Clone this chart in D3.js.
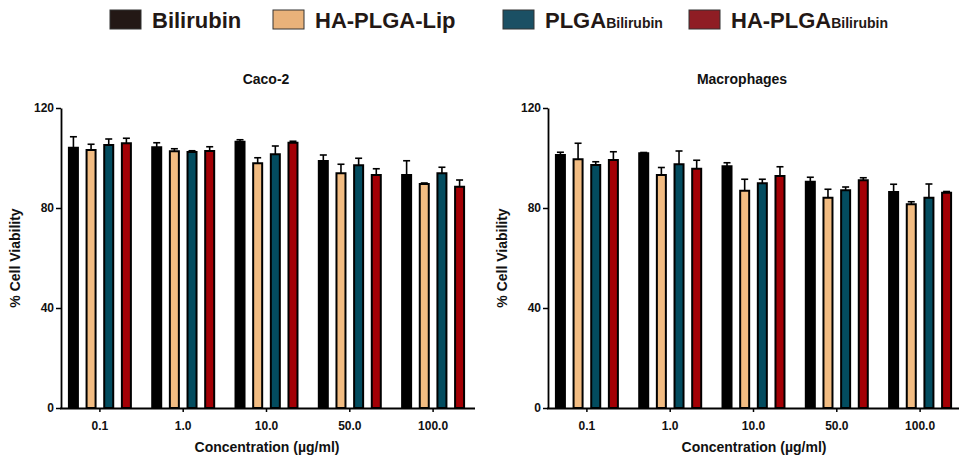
<!DOCTYPE html>
<html>
<head>
    <meta charset="utf-8">
    <style>
        body { margin: 0; background: white; }
        svg { display: block; font-family: 'Liberation Sans', Arial, sans-serif; }
        .axis .domain { stroke: #000; stroke-width: 1.8px; }
        .axis .tick line { stroke: #000; stroke-width: 1.5px; }
        .axis .tick text { font-size: 12px; font-weight: bold; fill: #111; }
    </style>
</head>
<body>
<svg width="959" height="459"></svg>

<script src="https://cdn.jsdelivr.net/npm/d3@7"></script>
<script>

    // data
    let concentrations = ["0.1", "1.0", "10.0", "50.0", "100.0"];
    let seriesNames = ["Bilirubin", "HA-PLGA-Lip", "PLGA_Bilirubin", "HA-PLGA_Bilirubin"];
    let yTicks = [0, 40, 80, 120];

    // rows = concentration, columns = series
    let caco2Mean = [
        [104.1, 103.2, 105.2, 105.9],
        [104.3, 102.7, 102.4, 102.8],
        [106.5, 97.9, 101.5, 106.1],
        [98.8, 93.9, 97.1, 93.2],
        [93.2, 89.6, 93.9, 88.5]
    ];
    let caco2Sd = [
        [4.4, 2.3, 2.4, 2.0],
        [1.8, 1.0, 0.5, 1.7],
        [0.8, 2.2, 3.3, 0.6],
        [2.4, 3.6, 2.8, 2.5],
        [5.7, 0.4, 2.4, 2.7]
    ];
    let macroMean = [
        [101.2, 99.5, 97.2, 99.2],
        [101.9, 93.2, 97.5, 95.7],
        [96.7, 86.9, 89.9, 92.8],
        [90.5, 84.1, 87.1, 91.1],
        [86.4, 81.5, 84.1, 86.1]
    ];
    let macroSd = [
        [1.1, 6.4, 1.3, 3.3],
        [0.3, 3.0, 5.3, 3.4],
        [1.4, 4.6, 1.6, 3.7],
        [1.8, 3.4, 1.3, 1.0],
        [3.1, 1.0, 5.5, 0.5]
    ];

    let barColors = ["#000000", "#f2bc82", "#034c5f", "#a30005"];
    let legendColors = ["#231815", "#e9b27a", "#1b5064", "#8f1d24"];

    let svg = d3.select("svg");

    // ---- legend ----
    let legendX = [110, 273, 503, 689];
    let legend = svg.append("g");
    seriesNames.forEach(function (name, i) {
        let g = legend.append("g").attr("transform", `translate(${legendX[i]},0)`);
        g.append("rect")
            .attr("x", 0).attr("y", 10)
            .attr("width", 31).attr("height", 19)
            .style("fill", legendColors[i])
            .style("stroke", "#333")
            .style("stroke-width", 1);
        let parts = name.split("_");
        let t = g.append("text")
            .attr("x", 42).attr("y", 28)
            .attr("fill", "#231815")
            .attr("font-size", "22px")
            .attr("font-weight", "bold");
        t.append("tspan").text(parts[0]);
        if (parts[1]) {
            t.append("tspan").text(parts[1]).attr("font-size", "14px");
        }
    });

    // ---- panels ----
    function drawPanel(x0, title, titleX, means, sds) {
        let top = 108, bottom = 408;

        let y = d3.scaleLinear().domain([0, 120]).range([bottom, top]);
        let x = d3.scaleBand().domain(concentrations).range([x0 - 3, x0 + 414]).paddingInner(0.256).paddingOuter(0.131);
        let xs = d3.scaleBand().domain(d3.range(seriesNames.length)).range([0, x.bandwidth()]).paddingInner(0.49).paddingOuter(0);

        let g = svg.append("g");

        // bars
        concentrations.forEach(function (c, ci) {
            let grp = g.append("g").attr("transform", `translate(${x(c)},0)`);
            means[ci].forEach(function (m, si) {
                let bx = xs(si);
                let bw = xs.bandwidth();
                let cx = bx + bw / 2;
                let ye = y(m + sds[ci][si]);
                // error bar (up only)
                grp.append("line")
                    .attr("x1", cx).attr("x2", cx)
                    .attr("y1", y(m)).attr("y2", ye)
                    .style("stroke", "#000").style("stroke-width", 1.6);
                grp.append("line")
                    .attr("x1", cx - 3.5).attr("x2", cx + 3.5)
                    .attr("y1", ye).attr("y2", ye)
                    .style("stroke", "#000").style("stroke-width", 1.6);
                grp.append("rect")
                    .attr("x", bx).attr("width", bw)
                    .attr("y", y(m)).attr("height", y(0) - y(m))
                    .style("fill", barColors[si])
                    .style("stroke", "#000")
                    .style("stroke-width", 2);
            });
        });

        // axes
        g.append("g")
            .attr("class", "axis")
            .attr("transform", `translate(${x0},0)`)
            .call(d3.axisLeft(y).tickValues(yTicks).tickSize(5).tickPadding(2).tickSizeOuter(0));

        g.append("g")
            .attr("class", "axis")
            .attr("transform", `translate(0,${bottom})`)
            .call(d3.axisBottom(x).tickSize(4).tickPadding(9).tickSizeOuter(0))
            .select(".domain").attr("d", `M${x0 - 1},0.5H${x0 + 414}`);

        // titles
        g.append("text").text(title)
            .attr("x", titleX).attr("y", 84)
            .attr("text-anchor", "middle")
            .attr("font-size", "14px").attr("font-weight", "bold").attr("fill", "#111");

        g.append("text").text("Concentration (\u00b5g/ml)")
            .attr("x", x0 + 206).attr("y", 452)
            .attr("text-anchor", "middle")
            .attr("font-size", "14px").attr("font-weight", "bold").attr("fill", "#111");

        g.append("text").text("% Cell Viability")
            .attr("transform", `translate(${x0 - 41},${(top + bottom) / 2}) rotate(-90)`)
            .attr("text-anchor", "middle")
            .attr("font-size", "14px").attr("font-weight", "bold").attr("fill", "#111");
    }

    drawPanel(61, "Caco-2", 266, caco2Mean, caco2Sd);
    drawPanel(548, "Macrophages", 742, macroMean, macroSd);

</script>
</body>
</html>
